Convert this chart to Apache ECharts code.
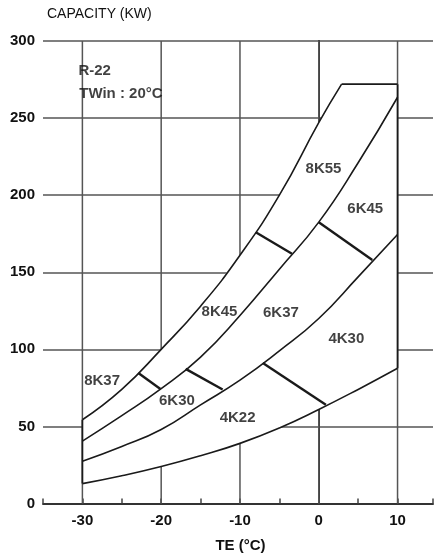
<!DOCTYPE html>
<html>
<head>
<meta charset="utf-8">
<script src="https://cdn.jsdelivr.net/npm/echarts@6/dist/echarts.min.js"></script>
<style>
html,body{margin:0;padding:0;background:#fff;}
#chart{width:436px;height:558px;}
</style>
</head>
<body>
<div id="chart"></div>
<script>
// ---- data ----
const TE = [-30, -25, -20, -15, -10, -5, 0, 5, 10];           // evaporating temp (°C)
const curveA_TE = [-30, -25, -20, -15, -10, -5, 0, 2.9];      // upper envelope
const curveA = [54.3, 74, 100, 128, 161, 200, 247, 272];
const curveB = [40.5, 57, 74.5, 95, 122, 152, 182.5, 221, 263.5];
const curveC = [27.4, 37, 48, 64, 80, 99, 120, 147, 174.5];
const curveD = [12.9, 18, 24, 31, 39, 49, 61, 74, 87.7];       // lower envelope
const topFlatTE = [2.9, 10];
const topFlatCap = [272, 272];
const leftEdgeTE = [-30, -30];
const leftEdgeCap = [12.9, 54.3];
const rightEdgeTE = [10, 10];
const rightEdgeCap = [87.7, 272];

// boundaries between compressor models
const dividerTE = [[-22.9, -20.1], [-8, -3.4], [-16.9, -12.2], [0, 6.8], [-7.1, 0.9]];
const dividerCap = [[84.7, 74.3], [176, 162], [87.3, 73.9], [182.5, 158], [91.1, 64]];

// model labels
const modelNames = ['8K37', '8K45', '8K55', '6K30', '6K37', '6K45', '4K22', '4K30'];
const modelTE = [-27.5, -12.6, 0.6, -18, -4.8, 5.9, -10.3, 3.5];
const modelCap = [79.5, 124, 217, 66.6, 123.5, 191, 55.6, 106.7];

const noteTexts = ['R-22', 'TWin : 20°C'];
const noteTE = [-30.5, -30.4];
const noteCap = [280.5, 265.7];

const xTicks = [-30, -20, -10, 0, 10];
const yTicks = [0, 50, 100, 150, 200, 250, 300];

// ---- helpers ----
const zip = (xs, ys) => xs.map((x, i) => [x, ys[i]]);
const FONT = '"Liberation Sans", Arial, Helvetica, sans-serif';
const INK = '#1a1a1a';
const GRID = '#555';

const chart = echarts.init(document.getElementById('chart'));

function lineSeries(data, width, smooth) {
  return {
    type: 'line', data: data, symbol: 'none', smooth: smooth ? 0.5 : false,
    lineStyle: { color: INK, width: width }, z: 3, silent: true, animation: false
  };
}

const series = [];
// vertical grid lines (below the white envelope)
series.push({
  type: 'custom', z: 1, silent: true, animation: false,
  data: xTicks.map(v => [v, 0]),
  renderItem: function (params, api) {
    const x = api.value(0);
    const p0 = api.coord([x, yTicks[0]]);
    const p1 = api.coord([x, yTicks[yTicks.length - 1]]);
    return { type: 'line', shape: { x1: p0[0], y1: p0[1], x2: p1[0], y2: p1[1] },
             style: { stroke: GRID, lineWidth: 1.5 } };
  }
});
// white envelope covering grid
series.push({
  type: 'custom', z: 2, silent: true, animation: false,
  data: [[-30, 0]],
  renderItem: function (params, api) {
    const pts = [];
    TE.forEach((x, i) => pts.push(api.coord([x, curveD[i]])));
    pts.push(api.coord([rightEdgeTE[1], rightEdgeCap[1]]));
    pts.push(api.coord([topFlatTE[0], topFlatCap[0]]));
    for (let i = curveA_TE.length - 1; i >= 0; i--) pts.push(api.coord([curveA_TE[i], curveA[i]]));
    return { type: 'polygon', shape: { points: pts }, style: { fill: '#fff' } };
  }
});
series.push(lineSeries(zip(curveA_TE, curveA), 1.6, true));
series.push(lineSeries(zip(TE, curveB), 1.6, true));
series.push(lineSeries(zip(TE, curveC), 1.6, true));
series.push(lineSeries(zip(TE, curveD), 1.6, true));
series.push(lineSeries(zip(topFlatTE, topFlatCap), 1.6, false));
series.push(lineSeries(zip(leftEdgeTE, leftEdgeCap), 1.8, false));
series.push(lineSeries(zip(rightEdgeTE, rightEdgeCap), 1.8, false));
dividerTE.forEach((xs, i) => series.push(lineSeries(zip(xs, dividerCap[i]), 2.4, false)));

// labels
series.push({
  type: 'scatter', symbolSize: 0, z: 4, silent: true, animation: false,
  data: modelNames.map((n, i) => ({ name: n, value: [modelTE[i], modelCap[i]] })).concat(
    noteTexts.map((n, i) => ({ name: n, value: [noteTE[i], noteCap[i]], label: { align: 'left' } }))
  ),
  label: {
    show: true, position: 'inside', formatter: '{b}',
    color: '#111', fontFamily: FONT, fontSize: 15, fontWeight: 'bold'
  }
});

chart.setOption({
  animation: false,
  backgroundColor: '#fff',
  title: {
    text: 'CAPACITY (KW)', left: 42, top: 2,
    textStyle: { fontFamily: FONT, fontSize: 14, fontWeight: 'normal', color: '#111' }
  },
  grid: { left: 43, right: 0, top: 41, bottom: 53, containLabel: false },
  xAxis: {
    type: 'value', min: -35, max: 14.5, interval: 5,
    name: 'TE (°C)', nameLocation: 'middle', nameGap: 42,
    nameTextStyle: { fontFamily: FONT, fontSize: 15, fontWeight: 'bold', color: '#111', verticalAlign: 'middle', padding: [0, 0, 0, 5] },
    axisLine: { show: true, lineStyle: { color: '#333', width: 2 } },
    axisTick: { show: true, inside: true, length: 5, lineStyle: { color: '#444', width: 1.5 } },
    axisLabel: {
      margin: 10, fontFamily: FONT, fontSize: 15, fontWeight: 'bold', color: '#111',
      formatter: v => (xTicks.indexOf(v) >= 0 ? String(v) : '')
    },
    splitLine: { show: false }
  },
  yAxis: {
    type: 'value', min: 0, max: 300, interval: 50,
    axisLine: { show: true, lineStyle: { color: '#333', width: 2 } },
    axisTick: { show: false },
    axisLabel: {
      margin: 8, fontFamily: FONT, fontSize: 15, fontWeight: 'bold', color: '#111',
      formatter: v => (yTicks.indexOf(v) >= 0 ? String(v) : '')
    },
    splitLine: { show: true, lineStyle: { color: GRID, width: 1.5 } }
  },
  series: series
});
</script>
</body>
</html>
